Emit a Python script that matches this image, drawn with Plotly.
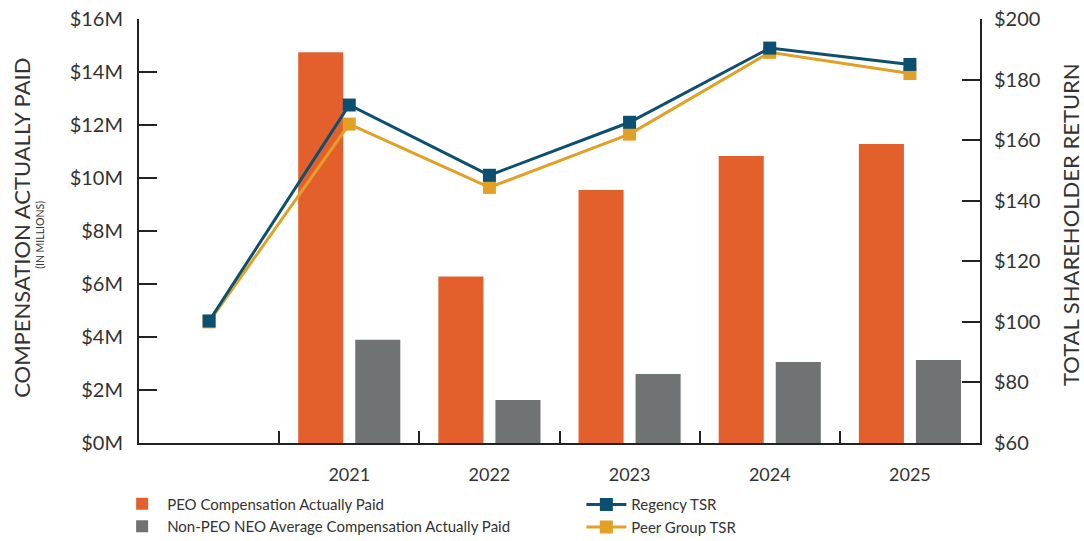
import plotly.graph_objects as go

years = ["2020", "2021", "2022", "2023", "2024", "2025"]
year_labels = ["", "2021", "2022", "2023", "2024", "2025"]
peo_cap = [None, 14.75, 6.28, 9.55, 10.83, 11.28]
neo_cap = [None, 3.90, 1.62, 2.60, 3.06, 3.13]
regency_tsr = [100.3, 171.6, 148.4, 165.9, 190.4, 185.0]
peer_tsr = [100.0, 165.3, 144.4, 162.0, 189.0, 182.0]
left_ticks = [0, 2, 4, 6, 8, 10, 12, 14, 16]
left_labels = ["$0M", "$2M", "$4M", "$6M", "$8M", "$10M", "$12M", "$14M", "$16M"]
right_ticks = [60, 80, 100, 120, 140, 160, 180, 200]
right_labels = ["$60", "$80", "$100", "$120", "$140", "$160", "$180", "$200"]

ORANGE = "#E3602D"
GRAY = "#707374"
BLUE = "#0B5070"
GOLD = "#E2A024"
TXT = "#333333"
AX = "#222222"
FONT = "Lato"

fig = go.Figure()
fig.add_trace(go.Bar(x=years, y=peo_cap, name="PEO Compensation Actually Paid",
                     marker=dict(color=ORANGE, line=dict(width=0)), yaxis="y",
                     legend="legend", legendrank=1))
fig.add_trace(go.Bar(x=years, y=neo_cap, name="Non-PEO NEO Average Compensation Actually Paid",
                     marker=dict(color=GRAY, line=dict(width=0)), yaxis="y",
                     legend="legend", legendrank=2))
fig.add_trace(go.Scatter(x=years, y=peer_tsr, name="Peer Group TSR", yaxis="y2",
                         mode="lines+markers", line=dict(color=GOLD, width=3),
                         marker=dict(symbol="square", size=13, color=GOLD),
                         legend="legend2", legendrank=2))
fig.add_trace(go.Scatter(x=years, y=regency_tsr, name="Regency TSR", yaxis="y2",
                         mode="lines+markers", line=dict(color=BLUE, width=3),
                         marker=dict(symbol="square", size=13, color=BLUE),
                         legend="legend2", legendrank=1))

leg_common = dict(orientation="v", yanchor="top", xanchor="left",
                  font=dict(size=15, color=TXT, family=FONT), tracegroupgap=0,
                  bgcolor="rgba(0,0,0,0)", itemwidth=40)

fig.update_layout(
    width=1084, height=541,
    margin=dict(l=139, r=104, t=19, b=98, autoexpand=False),
    paper_bgcolor="white", plot_bgcolor="white",
    font=dict(family=FONT, color=TXT),
    barmode="group", bargap=0.186, bargroupgap=0.21,
    showlegend=True,
    legend=dict(x=-0.026, y=-0.105, **leg_common),
    legend2=dict(x=0.526, y=-0.107, **leg_common),
    xaxis=dict(type="category", categoryorder="array", categoryarray=years,
               tickvals=years, ticktext=year_labels,
               showline=True, linecolor=AX, linewidth=2, mirror=False,
               ticks="inside", tickson="boundaries", ticklen=12, tickwidth=2, tickcolor=AX,
               tickfont=dict(size=18, color=TXT), ticklabelstandoff=14,
               showgrid=False, zeroline=False, range=[-0.5, 5.5]),
    yaxis=dict(range=[0, 16], tickvals=left_ticks, ticktext=left_labels,
               showline=True, linecolor=AX, linewidth=2,
               ticks="inside", ticklen=18, tickwidth=2, tickcolor=AX,
               tickfont=dict(size=20, color=TXT), ticklabelstandoff=10,
               showgrid=False, zeroline=False),
    yaxis2=dict(range=[60, 200], tickvals=right_ticks, ticktext=right_labels,
                overlaying="y", side="right",
                showline=True, linecolor=AX, linewidth=2,
                ticks="inside", ticklen=18, tickwidth=2, tickcolor=AX,
                tickfont=dict(size=20, color=TXT), ticklabelstandoff=8,
                showgrid=False, zeroline=False),
)

fig.add_annotation(text="COMPENSATION ACTUALLY PAID", textangle=-90,
                   xref="paper", yref="paper", x=-0.140, y=0.508, xanchor="center", yanchor="middle",
                   showarrow=False, font=dict(size=22, color=TXT, family=FONT))
fig.add_annotation(text="(IN MILLIONS)", textangle=-90,
                   xref="paper", yref="paper", x=-0.117, y=0.49, xanchor="center", yanchor="middle",
                   showarrow=False, font=dict(size=10.5, color=TXT, family=FONT))
fig.add_annotation(text="TOTAL SHAREHOLDER RETURN", textangle=-90,
                   xref="paper", yref="paper", x=1.1075, y=0.515, xanchor="center", yanchor="middle",
                   showarrow=False, font=dict(size=22, color=TXT, family=FONT))

fig.write_html("out.html")
